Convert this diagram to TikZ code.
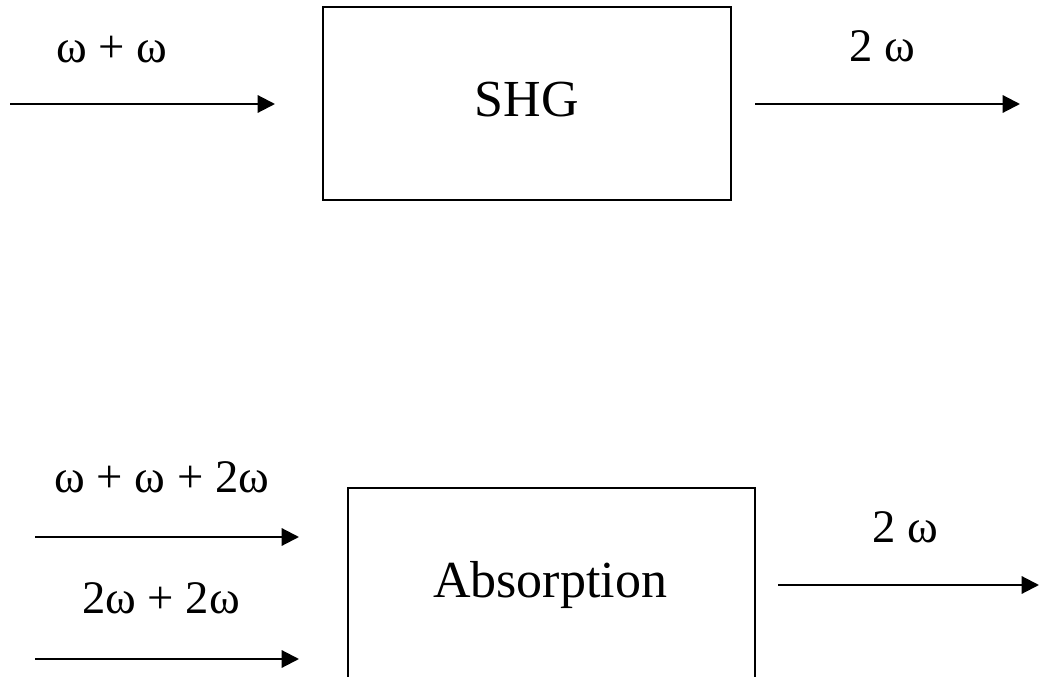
\documentclass[tikz,border=0pt]{standalone}
\usepackage{fontspec}
\setmainfont{Liberation Serif}
\usetikzlibrary{arrows.meta}
\tikzset{
  box/.style={draw, line width=1.6pt, minimum width=#1, inner sep=0pt},
  title/.style={anchor=base, font=\fontsize{39}{44}\selectfont, inner sep=0pt},
  lab/.style={anchor=base, font=\fontsize{35}{40}\selectfont, inner sep=0pt},
  flow/.style={line width=1.6pt, -{Triangle[length=13pt,width=13pt]}}
}
\begin{document}
\begin{tikzpicture}[x=0.75pt, y=-0.75pt]
\useasboundingbox (0,0) rectangle (1040,677);
\clip (0,0) rectangle (1040,677);
% top
\node[box=306pt, minimum height=144.75pt] (shg) at (527,103.5) {};
\node[title] (shgt) at (527,117) {SHG};
\coordinate (a1s) at (10,104);
\coordinate (a1e) at (275,104);
\coordinate (a2s) at (755,104);
\coordinate (a2e) at (1020,104);
\draw[flow] (a1s) -- (a1e);
\draw[flow] (a2s) -- (a2e);
\node[lab] (l1) at (112,63) {ω + ω};
\node[lab] (l2) at (882,62) {2 ω};
% bottom
\node[box=305.25pt, minimum height=172.5pt] (abs) at (551.5,603) {};
\node[title] (abst) at (550,597) {Absorption};
\coordinate (b1s) at (35,537);
\coordinate (b1e) at (299,537);
\coordinate (b2s) at (35,659);
\coordinate (b2e) at (299,659);
\coordinate (b3s) at (778,585);
\coordinate (b3e) at (1039,585);
\draw[flow] (b1s) -- (b1e);
\draw[flow] (b2s) -- (b2e);
\draw[flow] (b3s) -- (b3e);
\node[lab] (l3) at (162,493) {ω + ω + 2ω};
\node[lab] (l4) at (161,613) {2ω + 2ω};
\node[lab] (l5) at (905,542) {2 ω};
\end{tikzpicture}
\end{document}
